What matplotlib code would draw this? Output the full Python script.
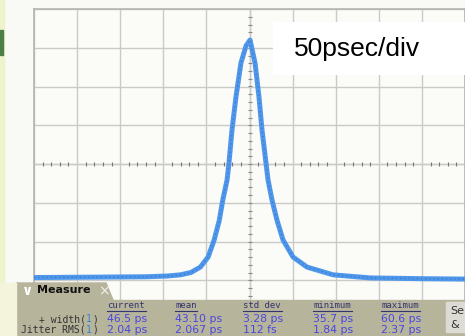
import numpy as np
import matplotlib.pyplot as plt
from matplotlib.patches import Rectangle, Polygon

# trace (time in ps, amplitude in divisions)
t_ps = [-250, -180, -120, -95, -80, -68, -57, -48, -41, -35, -31, -26, -23.8,
        -20.3, -15.7, -9.9, -4, 0.6, 6.4, 11, 14.5, 19.1, 21.5, 26.1, 31.9,
        38.9, 50.5, 66.7, 97, 140, 200, 250]
amp_div = [1.07, 1.08, 1.09, 1.11, 1.14, 1.20, 1.34, 1.60, 2.04, 2.55, 3.07,
           3.59, 4.03, 4.88, 5.73, 6.61, 7.05, 7.20, 6.61, 5.73, 4.88, 4.03,
           3.59, 3.07, 2.55, 2.04, 1.60, 1.34, 1.14, 1.06, 1.04, 1.03]

# measurement table
col_heads = ['current', 'mean', 'std dev', 'minimum', 'maximum']
row_names = ['+ width(', 'Jitter RMS(']
width_vals = ['46.5 ps', '43.10 ps', '3.28 ps', '35.7 ps', '60.6 ps']
jitter_vals = ['2.04 ps', '2.067 ps', '112 fs', '1.84 ps', '2.37 ps']

W, H = 465, 336
fig = plt.figure(figsize=(W / 100, H / 100), dpi=100)
fig.patch.set_facecolor('#f9f9f5')


def fx(x):
    return x / W


def fy(y):
    return 1 - y / H


# left edge strip
fig.add_artist(Rectangle((0, 0), fx(4), 1, transform=fig.transFigure,
                         color='#eef3cc', zorder=1))
fig.add_artist(Rectangle((0, fy(55)), fx(2.5), 25 / H, transform=fig.transFigure,
                         color='#4f7d48', zorder=1))

ax = fig.add_axes([fx(34), fy(319), fx(465) - fx(34), fy(9) - fy(319)])
ax.set_facecolor('#fbfbf8')
ax.set_xlim(-250, 250)
ax.set_ylim(0, 8)
ax.set_xticks(np.arange(-250, 251, 50))
ax.set_yticks(np.arange(0, 9, 1))
ax.grid(True, color='#cacaca', lw=1.0)
ax.tick_params(length=0, labelbottom=False, labelleft=False)
for s in ax.spines.values():
    s.set_color('#b4b4b4')
    s.set_linewidth(1.2)

# center graticule with small ticks
ax.axhline(4, color='#cacaca', lw=1.0)
ax.axvline(0, color='#cacaca', lw=1.0)
hx = np.arange(-240, 250, 10)
hx = hx[hx % 50 != 0]
ax.plot(hx, np.full(len(hx), 4), ls='none', marker='|', ms=3, color='#777777', mew=0.8)
vy = np.arange(0.2, 8, 0.2)
ax.plot(np.zeros(len(vy)), vy, ls='none', marker='_', ms=3, color='#888888', mew=0.8)

# waveform
ax.plot(t_ps, amp_div, color='#4f97ea', lw=3.6, solid_joinstyle='round', zorder=3)
ax.plot(t_ps, amp_div, color='#2a66b8', lw=1.0, alpha=0.55, ls=(0, (1, 2)), zorder=4)

# label box
ax.add_patch(Rectangle((fx(273), fy(75)), 1 - fx(273), 53 / H, transform=fig.transFigure,
                       fc='white', ec='none', zorder=6))
ax.text(fx(294), fy(49), '50psec/div', transform=fig.transFigure, fontsize=19,
        family='Liberation Sans', va='center', ha='left', color='black', zorder=7)

# measure panel
panel = '#b7b49c'
fig.add_artist(Rectangle((fx(16), 0), 1 - fx(16), fy(300), transform=fig.transFigure,
                         color=panel, zorder=10))
fig.add_artist(Polygon([(fx(16), fy(300)), (fx(16), fy(283)), (fx(106), fy(283)),
                        (fx(113), fy(300))], closed=True, transform=fig.transFigure,
                       color=panel, zorder=10))
fig.add_artist(Rectangle((0, 0), fx(16), fy(283), transform=fig.transFigure,
                         color='#f4f4dc', zorder=10))
fig.text(fx(28), fy(291), '\u2228', fontsize=10, color='white', ha='center',
         va='center', fontweight='bold', zorder=11)
fig.text(fx(37), fy(290), 'Measure', fontsize=8, fontweight='bold', color='#111111',
         ha='left', va='center', zorder=11)
fig.text(fx(104), fy(291), '\u00d7', fontsize=10, color='#f0f0f0', ha='center',
         va='center', zorder=11)

col_x = [107, 175, 243, 313, 381]
for x, head, v1, v2 in zip(col_x, col_heads, width_vals, jitter_vals):
    fig.text(fx(x), fy(306), head, fontsize=6.5, color='#34346e', ha='left',
             va='center', family='DejaVu Sans Mono', zorder=11)
    fig.add_artist(plt.Line2D([fx(x), fx(x + 5.5 * len(head))], [fy(310.5), fy(310.5)],
                              transform=fig.transFigure, color='#34346e', lw=0.8,
                              zorder=11))
    fig.text(fx(x), fy(319), v1, fontsize=7.8, color='#4a46e0', ha='left',
             va='center', zorder=11)
    fig.text(fx(x), fy(330), v2, fontsize=7.8, color='#4a46e0', ha='left',
             va='center', zorder=11)

for y, name in zip([319, 330], row_names):
    fig.text(fx(86), fy(y), name, fontsize=7, color='#333333', ha='right',
             va='center', family='DejaVu Sans Mono', zorder=11)
    fig.text(fx(89), fy(y), '1', fontsize=7, color='#2f86d0', ha='center',
             va='center', family='DejaVu Sans Mono', zorder=11)
    fig.text(fx(92.5), fy(y), ')', fontsize=7, color='#333333', ha='left',
             va='center', family='DejaVu Sans Mono', zorder=11)

# side button
fig.add_artist(Rectangle((fx(446), fy(332)), 1 - fx(446), fy(302) - fy(332),
                         transform=fig.transFigure, color='#dcdcd4', zorder=11))
fig.text(fx(450), fy(311), 'Se', fontsize=8, color='#333333', ha='left', va='center',
         zorder=12)
fig.text(fx(450), fy(325), '&', fontsize=8, color='#333333', ha='left', va='center',
         zorder=12)

fig.savefig('out.png', dpi=100)
